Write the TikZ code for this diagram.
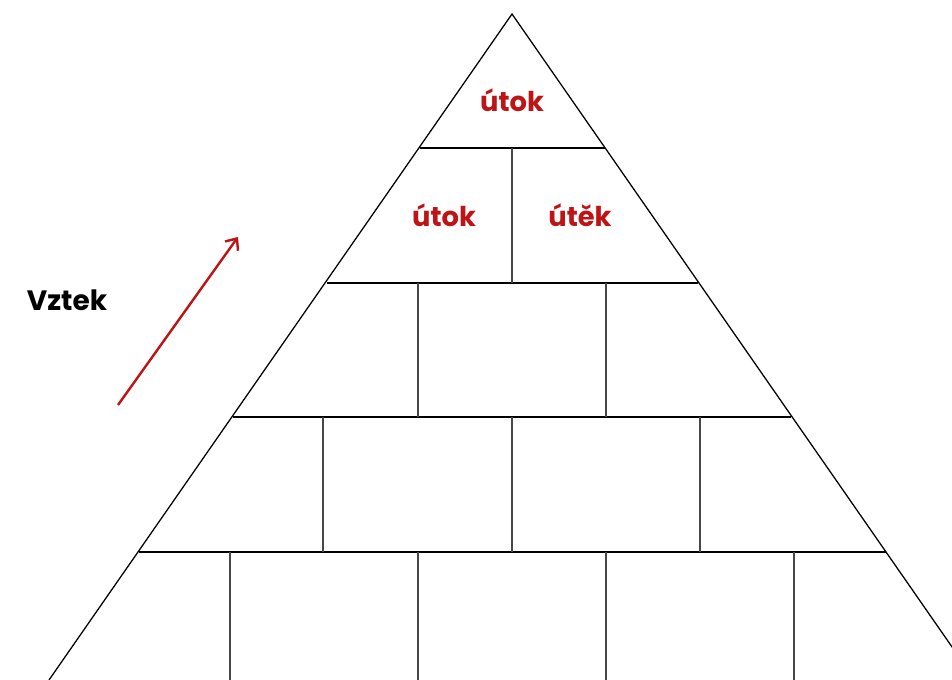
\documentclass[tikz,border=0pt]{standalone}
\usepackage{fontspec}
\setmainfont{Poppins}
\usetikzlibrary{arrows.meta}
\definecolor{wordred}{RGB}{190,20,22}
\tikzset{
  rim/.style={line width=0.95pt, black},
  course/.style={line width=1.2pt, black},
  joint/.style={line width=1.1pt, black!72},
  word/.style={font=\bfseries\fontsize{20.5}{22}\selectfont, text=wordred, inner sep=0pt},
  label/.style={font=\bfseries\fontsize{21}{23}\selectfont, text=black, inner sep=0pt},
  rise/.style={line width=1.8pt, wordred, -{Straight Barb[length=7pt,width=12pt,line width=1.8pt]}}
}
\begin{document}
\begin{tikzpicture}[x=0.75pt, y=-0.75pt]
  \useasboundingbox (0,0) rectangle (952,680);
  \clip (0,0) rectangle (952,680);
  % pyramid corners
  \coordinate (apex) at (512,14);
  \coordinate (bl) at (49,680);
  \coordinate (br) at (975,680);
  % course ends on the sloping sides
  \coordinate (l1) at (420,148); \coordinate (r1) at (605,148);
  \coordinate (l2) at (327,283); \coordinate (r2) at (698,283);
  \coordinate (l3) at (233,417); \coordinate (r3) at (791,417);
  \coordinate (l4) at (139,552); \coordinate (r4) at (886,552);
  % horizontal courses
  \draw[course] (l1) -- (r1);
  \draw[course] (l2) -- (r2);
  \draw[course] (l3) -- (r3);
  \draw[course] (l4) -- (r4);
  % vertical joints
  \draw[joint] (512,148) -- (512,283);
  \draw[joint] (418,283) -- (418,417);
  \draw[joint] (606,283) -- (606,417);
  \draw[joint] (323,417) -- (323,552);
  \draw[joint] (512,417) -- (512,552);
  \draw[joint] (700,417) -- (700,552);
  \draw[joint] (230,552) -- (230,680);
  \draw[joint] (418,552) -- (418,680);
  \draw[joint] (606,552) -- (606,680);
  \draw[joint] (794,552) -- (794,680);
  % sloping sides
  \draw[rim] (bl) -- (apex) -- (br);
  % words
  \node[word] (top) at (512,100) {útok};
  \node[word] (left) at (444,215) {útok};
  \node[word] (right) at (580,215) {útěk};
  \node[label] (vztek) at (67,300) {Vztek};
  % rising arrow
  \coordinate (a0) at (118,405);
  \coordinate (a1) at (238,237);
  \draw[rise] (a0) -- (a1);
\end{tikzpicture}
\end{document}
